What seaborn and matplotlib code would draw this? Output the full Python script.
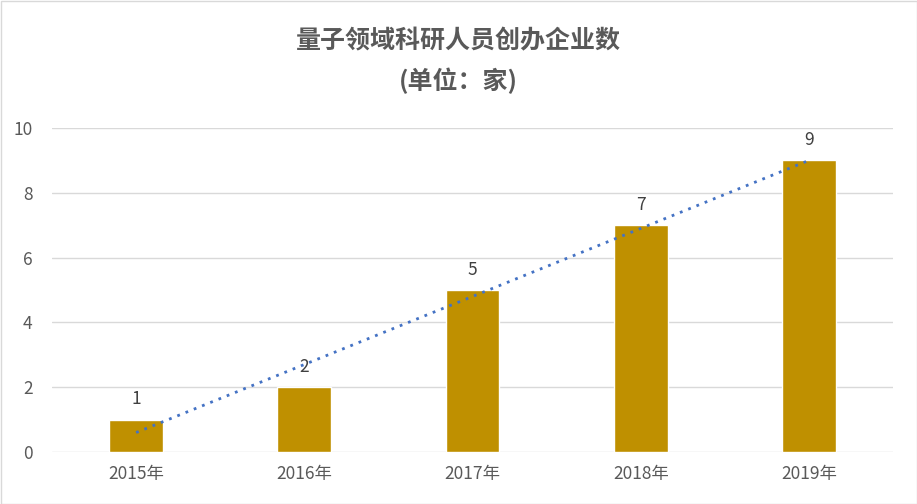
import numpy as np
import pandas as pd
import matplotlib
matplotlib.use("Agg")
import matplotlib.pyplot as plt
import seaborn as sns

years = ["2015年", "2016年", "2017年", "2018年", "2019年"]
counts = [1, 2, 5, 7, 9]
yticks = [0, 2, 4, 6, 8, 10]
title_line1 = "量子领域科研人员创办企业数"
title_line2 = "(单位：家)"

sns.set_theme(style="white")
plt.rcParams['font.family'] = ['Noto Sans CJK SC', 'DejaVu Sans']

df = pd.DataFrame({"year": years, "count": counts})

fig = plt.figure(figsize=(9.17, 5.04), dpi=100)
ax = fig.add_axes([52/917, 1-452/504, (893-52)/917, (452-128)/504])

sns.barplot(data=df, x="year", y="count", color="#BF9000", saturation=1,
            width=0.32, ax=ax, zorder=2)

sns.regplot(x=np.arange(len(counts)), y=np.array(counts, dtype=float), scatter=False,
            ci=None, truncate=True, ax=ax,
            line_kws=dict(color="#4472C4", linestyle=(0, (1, 2.2)), linewidth=2.0, zorder=3))

for i, v in enumerate(counts):
    ax.text(i, v + 0.35, str(v), ha="center", va="bottom", fontsize=12.5, color="#404040")

ax.set_xlim(-0.5, len(years) - 0.5)
ax.set_ylim(0, 10)
ax.set_yticks(yticks)
ax.set_yticklabels([str(t) for t in yticks])
ax.grid(axis="y", color="#D9D9D9", linewidth=1.0, zorder=0)
ax.set_axisbelow(True)
for s in ax.spines.values():
    s.set_visible(False)
ax.set_xlabel("")
ax.set_ylabel("")
ax.tick_params(axis="both", length=0, labelsize=12.5, labelcolor="#595959")
ax.tick_params(axis="x", pad=9)
ax.tick_params(axis="y", pad=14)

fig.text(0.5, 1 - 41/504, title_line1, ha="center", va="center",
         fontsize=18, fontweight="bold", color="#595959")
fig.text(0.5, 1 - 81/504, title_line2, ha="center", va="center",
         fontsize=18, fontweight="bold", color="#595959")

border = plt.Rectangle((0.5/917, 0.5/504), 1 - 1/917, 1 - 1/504, transform=fig.transFigure,
                       fill=False, edgecolor="#D9D9D9", linewidth=1.0)
fig.patches.append(border)

fig.savefig("out.png", dpi=100, facecolor="white")
